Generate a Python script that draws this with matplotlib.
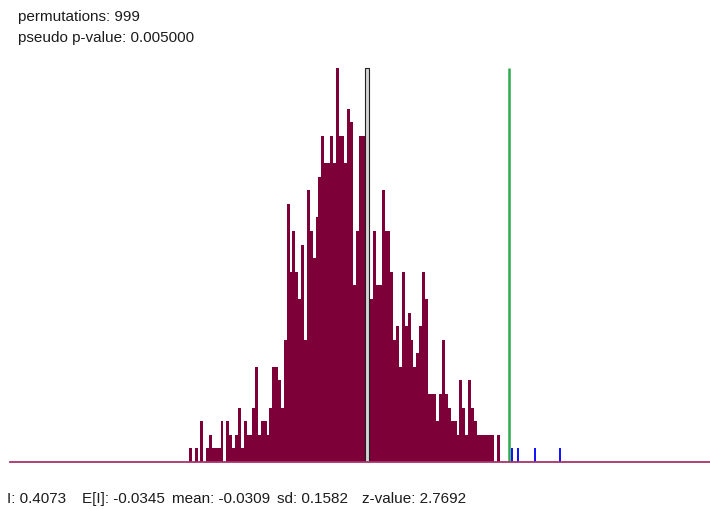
import matplotlib
matplotlib.use("Agg")
import matplotlib.pyplot as plt
import numpy as np

# permutation counts per bin (left to right)
counts = [1, 0, 1, 0, 3, 0, 1, 2, 1, 1,
          1, 3, 0, 3, 2, 1, 2, 4, 1, 3,
          2, 2, 4, 7, 2, 3, 3, 2, 4, 7,
          7, 6, 4,
          9, 19, 14, 17, 14, 12, 16, 9, 20, 17,
          15, 18, 21, 24, 22, 22, 24, 22, 29, 24,
          24, 22, 26, 25, 13, 17, 24,
          24, 17, 15, 12, 17, 13, 13, 20, 17, 17,
          14, 9, 10, 7, 14, 10, 11, 9, 7, 8,
          10, 14, 12, 5, 5, 5, 3, 5, 9, 5,
          4, 3, 3, 2, 6, 4, 2, 6, 4, 3,
          2, 2, 2, 2, 2, 2, 0, 2]
bin_start = -0.584
bin_end = 0.3787

# permuted values above the observed statistic
extreme_vals = [0.4166, 0.4352, 0.4878, 0.5668]

moran_i = 0.4073
exp_i = -0.0345
perm_mean = -0.0309
perm_sd = 0.1582
z_value = 2.7692
n_perm = 999
p_value = 0.005

W, H = 710, 509
fig = plt.figure(figsize=(W / 100, H / 100), dpi=100)
ax = fig.add_axes([0, 47 / H, 1, 462 / H])

bin_width = (bin_end - bin_start) / len(counts)
lefts = bin_start + np.arange(len(counts)) * bin_width
ax.bar(lefts, counts, width=bin_width * 1.02, align="edge",
       color="#7d0038", linewidth=0)

ax.bar(extreme_vals, [1] * len(extreme_vals), width=0.006,
       color="#1414ff", linewidth=0)

top = max(counts)
ax.bar(perm_mean, top, width=0.0124, color="#d4d4d4",
       edgecolor="#202020", linewidth=0.8, zorder=3)
ax.vlines(moran_i, 0, top, color="#2eaa4a", linewidth=1.8, zorder=3)

ax.axhline(0, xmin=10 / W, xmax=1, color="#a8346a", linewidth=1.3,
           clip_on=False, zorder=4)

ax.set_xlim(-1.169, 1.030)
ax.set_ylim(0, 34)
ax.axis("off")


def px_text(x, y, s):
    fig.text(x / W, 1 - y / H, s, fontsize=11, family="Liberation Sans",
             color="#1c1c1c", va="baseline", ha="left")


px_text(18, 21, "permutations: %d" % n_perm)
px_text(18, 42, "pseudo p-value: %.6f" % p_value)

px_text(7, 503, "I: %.4f" % moran_i)
px_text(82, 503, "E[I]: %.4f" % exp_i)
px_text(172, 503, "mean: %.4f" % perm_mean)
px_text(277, 503, "sd: %.4f" % perm_sd)
px_text(362, 503, "z-value: %.4f" % z_value)

plt.savefig("out.png", dpi=100)
